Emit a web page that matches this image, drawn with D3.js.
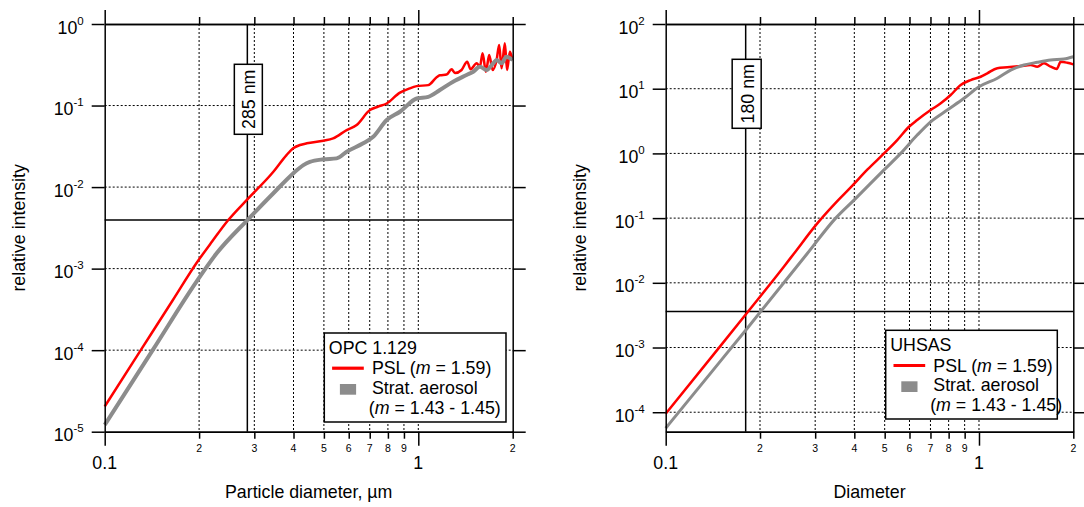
<!DOCTYPE html>
<html>
<head>
<meta charset="utf-8">
<script src="https://cdn.jsdelivr.net/npm/d3@7/dist/d3.min.js"></script>
<style>
  html, body { margin: 0; padding: 0; background: #fff; }
  svg { display: block; }
</style>
</head>
<body>
<svg id="chart" width="1084" height="507"></svg>
<script>
// ---------------- data ----------------
const xMajorTicks = [0.1, 1];
const xMajorLabels = ["0.1", "1"];
const xMinorTicks = [0.2, 0.3, 0.4, 0.5, 0.6, 0.7, 0.8, 0.9, 2];
const xMinorLabels = ["2", "3", "4", "5", "6", "7", "8", "9", "2"];
const xGridValues = [0.2, 0.3, 0.4, 0.5, 0.6, 0.7, 0.8, 0.9, 1];

const opcYTicks = [1e-5, 1e-4, 1e-3, 1e-2, 1e-1, 1];
const uhsasYTicks = [1e-4, 1e-3, 1e-2, 1e-1, 1, 10, 100];

// OPC 1.129 – PSL (m = 1.59)
const opcPslDiam = [0.1, 0.13, 0.165, 0.1965, 0.22, 0.2478, 0.285, 0.345, 0.38, 0.399, 0.4195, 0.441, 0.498, 0.535, 0.591, 0.636, 0.701, 0.745, 0.793, 0.874, 0.93, 0.988, 1.076, 1.144, 1.172, 1.231, 1.277, 1.309, 1.374, 1.432, 1.468, 1.535, 1.572, 1.603, 1.643, 1.683, 1.726, 1.777, 1.811, 1.843, 1.888, 1.919, 1.959, 1.991, 2.0];
const opcPslVal  = [2.04e-5, 9.85e-5, 4.12e-4, 1.18e-3, 2.15e-3, 3.94e-3, 7.06e-3, 0.0154, 0.0247, 0.0299, 0.0328, 0.0344, 0.037, 0.0396, 0.05, 0.0577, 0.088, 0.097, 0.106, 0.144, 0.16, 0.173, 0.178, 0.222, 0.235, 0.24, 0.278, 0.25, 0.273, 0.345, 0.278, 0.33, 0.299, 0.437, 0.26, 0.417, 0.273, 0.362, 0.553, 0.286, 0.58, 0.273, 0.457, 0.38, 0.362];

// OPC 1.129 – Strat. aerosol (m = 1.43 - 1.45)
const opcStratDiam = [0.1, 0.1429, 0.1965, 0.2275, 0.285, 0.345, 0.399, 0.43, 0.451, 0.498, 0.549, 0.591, 0.667, 0.718, 0.793, 0.874, 0.988, 1.076, 1.172, 1.291, 1.425, 1.497, 1.572, 1.652, 1.733, 1.777, 1.843, 1.91, 2.0];
const opcStratVal  = [1.21e-5, 1.03e-4, 6.98e-4, 1.54e-3, 3.94e-3, 8.4e-3, 0.0147, 0.0186, 0.0204, 0.0219, 0.0225, 0.0271, 0.0344, 0.0414, 0.0664, 0.0839, 0.122, 0.128, 0.155, 0.196, 0.237, 0.26, 0.299, 0.273, 0.33, 0.362, 0.33, 0.397, 0.362];

// UHSAS – PSL (m = 1.59)
const uhsasPslDiam = [0.1, 0.1461, 0.1822, 0.2386, 0.2568, 0.3047, 0.3529, 0.3895, 0.44, 0.4976, 0.5483, 0.5979, 0.635, 0.701, 0.755, 0.812, 0.874, 0.9408, 1.0125, 1.063, 1.144, 1.231, 1.358, 1.462, 1.535, 1.613, 1.694, 1.771, 1.823, 1.914, 2.0];
const uhsasPslVal  = [9.5e-5, 9.2e-4, 3.48e-3, 0.0179, 0.0284, 0.0828, 0.183, 0.298, 0.56, 1.0, 1.61, 2.58, 3.28, 4.68, 5.94, 7.98, 11.4, 13.6, 15.3, 17.3, 20.7, 21.4, 22.4, 23.2, 21.9, 24.7, 21.9, 20.2, 26.1, 25.2, 23.8];

// UHSAS – Strat. aerosol
const uhsasStratDiam = [0.1, 0.14, 0.1822, 0.2831, 0.3488, 0.399, 0.4976, 0.5624, 0.635, 0.701, 0.792, 0.896, 1.0, 1.144, 1.262, 1.392, 1.535, 1.694, 1.867, 2.0];
const uhsasStratVal  = [5.66e-5, 4.17e-4, 1.99e-3, 0.0284, 0.1, 0.19, 0.556, 1.0, 1.92, 3.08, 4.68, 7.1, 10.7, 14.5, 19.4, 23.2, 25.6, 27.8, 28.8, 31.2];

const seriesNames = ["PSL", "Strat. aerosol"];
const legendTitles = ["OPC 1.129", "UHSAS"];
const xTitles = ["Particle diameter, µm", "Diameter"];
const yTitle = "relative intensity";
const markerDiam = [0.285, 0.18];
const markerVal = [3.94e-3, 3.6e-3];
const markerLabels = ["285 nm", "180 nm"];

// ---------------- drawing ----------------
const FONT = "'Liberation Sans', Arial, Helvetica, sans-serif";
const FS = 17.8;
const RED = "#ff0000", GRAY = "#8c8c8c";
const svg = d3.select("#chart").style("font-family", FONT);
svg.append("rect").attr("width", 1084).attr("height", 507).attr("fill", "#fff");

const panels = [
  { left: 104.7, right: 512.7, yDomain: [1e-5, 1], yTicks: opcYTicks,
    psl: [opcPslDiam, opcPslVal], strat: [opcStratDiam, opcStratVal],
    pslW: 2.5, stratW: 4,
    legend: { x: 324.3, y: 333, w: 181.7, h: 89 },
    title: legendTitles[0], xTitle: xTitles[0],
    mD: markerDiam[0], mV: markerVal[0], mLabel: markerLabels[0], box: { cy: 99.3, w: 28, h: 70 } },
  { left: 665.7, right: 1073.3, yDomain: [5e-5, 100], yTicks: uhsasYTicks,
    psl: [uhsasPslDiam, uhsasPslVal], strat: [uhsasStratDiam, uhsasStratVal],
    pslW: 2.5, stratW: 3,
    legend: { x: 885.7, y: 330.3, w: 171.6, h: 88.7 },
    title: legendTitles[1], xTitle: xTitles[1],
    mD: markerDiam[1], mV: markerVal[1], mLabel: markerLabels[1], box: { cy: 93.8, w: 29, h: 69 } }
];

const TOP = 24, BOTTOM = 431.7;

function styleAxis(sel) {
  sel.selectAll("path").attr("stroke", "#000").attr("stroke-width", 1.5).attr("fill", "none");
  sel.selectAll("line").attr("stroke", "#000").attr("stroke-width", 1.5);
  sel.selectAll("text").remove();
}

panels.forEach(p => {
  const x = d3.scaleLog().domain([0.1, 2]).range([p.left, p.right]);
  const y = d3.scaleLog().domain(p.yDomain).range([BOTTOM, TOP]);
  const g = svg.append("g");

  // grid
  const grid = g.append("g").attr("stroke", "#000").attr("stroke-width", 1).attr("stroke-dasharray", "2,2");
  grid.selectAll("line.v").data(xGridValues).join("line")
    .attr("x1", d => x(d)).attr("x2", d => x(d)).attr("y1", TOP).attr("y2", BOTTOM);
  grid.selectAll("line.h").data(p.yTicks.filter(v => y(v) > TOP + 1 && y(v) < BOTTOM - 1)).join("line")
    .attr("x1", p.left).attr("x2", p.right).attr("y1", d => y(d)).attr("y2", d => y(d));

  // crosshair
  g.append("line").attr("x1", x(p.mD)).attr("x2", x(p.mD)).attr("y1", TOP).attr("y2", BOTTOM)
    .attr("stroke", "#000").attr("stroke-width", 1.5);
  g.append("line").attr("x1", p.left).attr("x2", p.right).attr("y1", y(p.mV)).attr("y2", y(p.mV))
    .attr("stroke", "#000").attr("stroke-width", 1.5);

  // curves
  const line = d3.line().x(d => x(d[0])).y(d => y(d[1])).curve(d3.curveMonotoneX);
  const pslData = p.psl[0].map((d, i) => [d, p.psl[1][i]]);
  const stratData = p.strat[0].map((d, i) => [d, p.strat[1][i]]);
  g.append("path").datum(pslData).attr("d", line).attr("fill", "none")
    .attr("stroke", RED).attr("stroke-width", p.pslW).attr("stroke-linejoin", "round");
  g.append("path").datum(stratData).attr("d", line).attr("fill", "none")
    .attr("stroke", GRAY).attr("stroke-width", p.stratW).attr("stroke-linejoin", "round");

  // axes
  const axL = g.append("g").attr("transform", `translate(${p.left},0)`)
    .call(d3.axisLeft(y).tickValues(p.yTicks).tickSize(13).tickSizeOuter(0).tickFormat(() => ""));
  const axR = g.append("g").attr("transform", `translate(${p.right},0)`)
    .call(d3.axisRight(y).tickValues(p.yTicks).tickSize(13).tickSizeOuter(0).tickFormat(() => ""));
  const axBM = g.append("g").attr("transform", `translate(0,${BOTTOM})`)
    .call(d3.axisBottom(x).tickValues(xMajorTicks).tickSize(14).tickSizeOuter(0).tickFormat(() => ""));
  const axBm = g.append("g").attr("transform", `translate(0,${BOTTOM})`)
    .call(d3.axisBottom(x).tickValues(xMinorTicks).tickSize(7).tickSizeOuter(0).tickFormat(() => ""));
  const axTM = g.append("g").attr("transform", `translate(0,${TOP})`)
    .call(d3.axisTop(x).tickValues(xMajorTicks).tickSize(14).tickSizeOuter(0).tickFormat(() => ""));
  const axTm = g.append("g").attr("transform", `translate(0,${TOP})`)
    .call(d3.axisTop(x).tickValues(xMinorTicks).tickSize(7).tickSizeOuter(0).tickFormat(() => ""));
  [axL, axR, axBM, axBm, axTM, axTm].forEach(styleAxis);

  // y tick labels 10^n
  p.yTicks.forEach(v => {
    const e = Math.round(Math.log10(v));
    const t = g.append("text").attr("x", p.left - 21).attr("y", y(v) + 9.5)
      .attr("text-anchor", "end").attr("font-size", FS).attr("fill", "#000");
    t.append("tspan").text("10");
    t.append("tspan").attr("font-size", 11.5).attr("dy", -9).text(String(e));
  });

  // x tick labels
  xMinorTicks.forEach((v, i) => {
    g.append("text").attr("x", x(v)).attr("y", BOTTOM + 19.8).attr("text-anchor", "middle")
      .attr("font-size", 10.5).text(xMinorLabels[i]);
  });
  xMajorTicks.forEach((v, i) => {
    g.append("text").attr("x", x(v)).attr("y", BOTTOM + 37.5).attr("text-anchor", "middle")
      .attr("font-size", FS).text(xMajorLabels[i]);
  });

  // axis titles
  g.append("text").attr("x", (p.left + p.right) / 2).attr("y", 498).attr("text-anchor", "middle")
    .attr("font-size", FS).text(p.xTitle);
  g.append("text").attr("transform", `translate(${p.left - 80},${(TOP + BOTTOM) / 2}) rotate(-90)`)
    .attr("text-anchor", "middle").attr("font-size", FS).text(yTitle);

  // marker label box
  const bx = x(p.mD) + 1;
  g.append("rect").attr("x", bx - p.box.w / 2).attr("y", p.box.cy - p.box.h / 2)
    .attr("width", p.box.w).attr("height", p.box.h)
    .attr("fill", "#fff").attr("stroke", "#000").attr("stroke-width", 1.5);
  g.append("text").attr("transform", `translate(${bx + 0.5},${p.box.cy}) rotate(-90)`)
    .attr("text-anchor", "middle").attr("dy", "0.36em").attr("font-size", FS).text(p.mLabel);

  // legend
  const L = p.legend;
  const lg = g.append("g").attr("transform", `translate(${L.x},${L.y})`);
  lg.append("rect").attr("width", L.w).attr("height", L.h).attr("fill", "#fff")
    .attr("stroke", "#000").attr("stroke-width", 1.5);
  lg.append("text").attr("x", 4.5).attr("y", 20.7).attr("font-size", FS).text(p.title);
  lg.append("line").attr("x1", 7.8).attr("x2", 39.5).attr("y1", 35.2).attr("y2", 35.2)
    .attr("stroke", RED).attr("stroke-width", 3.2);
  const t1 = lg.append("text").attr("x", 47.6).attr("y", 41.4).attr("font-size", FS);
  t1.append("tspan").text(seriesNames[0] + " (");
  t1.append("tspan").attr("font-style", "italic").text("m");
  t1.append("tspan").text(" = 1.59)");
  lg.append("rect").attr("x", 15.6).attr("y", 51).attr("width", 16.2).attr("height", 10.7).attr("fill", GRAY);
  lg.append("text").attr("x", 47.6).attr("y", 60.5).attr("font-size", FS).text(seriesNames[1]);
  const t2 = lg.append("text").attr("x", 44.5).attr("y", 80.8).attr("font-size", FS);
  t2.append("tspan").text("(");
  t2.append("tspan").attr("font-style", "italic").text("m");
  t2.append("tspan").text(" = 1.43 - 1.45)");
});
</script>
</body>
</html>
